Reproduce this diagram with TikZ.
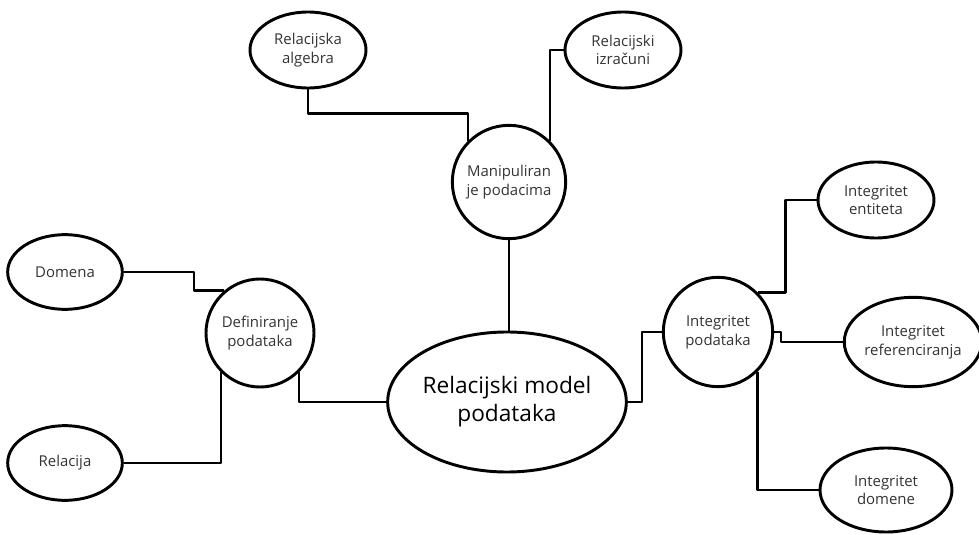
\documentclass[tikz,border=0pt]{standalone}
\usepackage{fontspec}
\setmainfont{Open Sans}
\usetikzlibrary{shapes.geometric}
\def\Wth{2.2pt}
\def\Ink{black!80}
\tikzset{
    leaf/.style={
        draw=black, line width=\Wth, ellipse, inner sep=0pt,
        align=center, text=\Ink, font=\fontsize{11.2}{14}\selectfont,
        minimum width=#1
    },
    hub/.style={
        draw=black, line width=\Wth, circle, inner sep=0pt,
        align=center, text=\Ink, font=\fontsize{11.2}{14}\selectfont,
        minimum size=#1
    },
    link/.style={draw=black, line width=1.9pt, line join=round}
}

\begin{document}
\begin{tikzpicture}[x=0.75pt, y=-0.75pt]
    \useasboundingbox (0,0) rectangle (979,535);

    % middle
    \node[leaf=160pt, minimum height=105pt, text=black,
          font=\fontsize{17}{21}\selectfont] (rmp) at (507,402) {Relacijski model\\podataka};

    % the three hubs
    \node[hub=85pt] (manip) at (509,182) {Manipuliran\\je podacima};
    \node[hub=81pt] (def) at (260,333) {Definiranje\\podataka};
    \node[hub=82pt] (ip) at (718,332) {Integritet\\podataka};

    % leaves
    \node[leaf=87pt, minimum height=57pt] (alg) at (308,50) {Relacijska\\algebra};
    \node[leaf=87pt, minimum height=57pt] (izr) at (623,50) {Relacijski\\izračuni};
    \node[leaf=86pt, minimum height=56pt] (dom) at (65,272) {Domena};
    \node[leaf=86pt, minimum height=56pt] (rel) at (65,463) {Relacija};
    \node[leaf=87pt, minimum height=57pt] (ent) at (876,200) {Integritet\\entiteta};
    \node[leaf=98pt, minimum height=67pt] (ref) at (913,342) {Integritet\\referenciranja};
    \node[leaf=99pt, minimum height=63pt] (domn) at (886,490) {Integritet\\domene};

    % connectors
    \draw[link] (alg.south) -- ++(0,24) -| (manip.north west);
    \draw[link] (izr.west) -| (manip.north east);
    \draw[link] (manip.south) -- (manip.south |- rmp.north);
    \draw[link] (dom.east) -- ++(70,0) |- (def.130);
    \draw[link] (rel.east) -| (def.225);
    \draw[link] (def.-45) |- (rmp.west);
    \draw[link] (rmp.east) -- ++(14,0) |- (ip.west);
    \draw[link] (ent.west) -- ++(-31,0) |- (ip.north east);
    \draw[link] (ref.west) -- ++(-62,0) |- (ip.east);
    \draw[link] (ip.-45) |- (domn.west);
\end{tikzpicture}
\end{document}
